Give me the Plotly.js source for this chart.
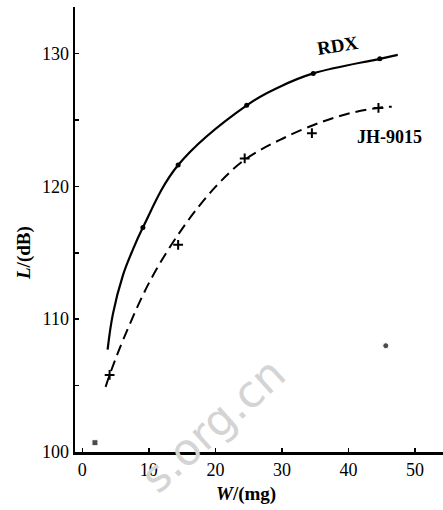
<!DOCTYPE html>
<html><head><meta charset="utf-8">
<script src="https://cdn.plot.ly/plotly-3.0.1.min.js"></script>
<style>html,body{margin:0;padding:0;background:#fff;}#c{width:443px;height:510px;}</style>
</head><body><div id="c"></div>
<script>
// RDX fitted curve
const rdxCurveW = [3.8, 4.6, 6.1, 7.4, 9.1, 14.4, 24.7, 29.7, 34.7, 44.7, 47.4];
const rdxCurveL = [107.7, 110.4, 113.3, 115.0, 116.9, 121.6, 126.1, 127.5, 128.5, 129.6, 129.9];
// RDX measured points
const rdxW = [9.1, 14.4, 24.7, 34.7, 44.7];
const rdxL = [116.9, 121.6, 126.1, 128.5, 129.6];
// JH-9015 fitted curve
const jhCurveW = [3.5, 4.1, 6.1, 10.2, 15.0, 19.9, 24.4, 29.7, 35.7, 40.2, 44.4, 46.5];
const jhCurveL = [104.9, 105.8, 108.4, 112.9, 116.8, 119.9, 122.0, 123.5, 124.8, 125.5, 125.9, 126.0];
// JH-9015 measured points
const jhW = [4.1, 14.4, 24.4, 34.5, 44.5];
const jhL = [105.8, 115.6, 122.1, 124.0, 125.9];
// stray marks in the scan
const strayW = [1.9, 45.6];
const strayL = [100.7, 108.0];
const xTicks = [0, 10, 20, 30, 40, 50];
const yTicks = [100, 110, 120, 130];

const serif = 'Liberation Serif, Times New Roman, serif';
const traces = [
  {x: rdxCurveW, y: rdxCurveL, mode: 'lines', line: {color: '#000', width: 2.2, shape: 'spline', smoothing: 1.1}, hoverinfo: 'skip'},
  {x: rdxW, y: rdxL, mode: 'markers', marker: {color: '#000', size: 5, symbol: 'circle'}},
  {x: jhCurveW, y: jhCurveL, mode: 'lines', line: {color: '#000', width: 2, dash: '11px,6px', shape: 'spline', smoothing: 1}, hoverinfo: 'skip'},
  {x: jhW, y: jhL, mode: 'markers', marker: {color: '#000', size: 7, symbol: 'cross-thin-open', line: {color: '#000', width: 2}}},
  {x: strayW, y: strayL, mode: 'markers', marker: {color: '#000', size: [6, 6], symbol: ['square', 'circle']}, cliponaxis: false}
];
const layout = {
  width: 443, height: 510,
  margin: {l: 75, r: 0, t: 7, b: 58},
  paper_bgcolor: '#fff', plot_bgcolor: '#fff',
  showlegend: false,
  font: {family: serif, color: '#000', size: 18},
  xaxis: {
    range: [-1.1, 54.2], tickvals: xTicks, ticktext: xTicks.map(String),
    showgrid: false, zeroline: false, showline: true, linecolor: '#000', linewidth: 2.5,
    ticks: 'inside', ticklen: 4, tickwidth: 1.5, tickcolor: '#000',
    tickfont: {family: serif, size: 18, color: '#000'}
  },
  yaxis: {
    range: [100, 133.5], tickvals: yTicks, ticktext: yTicks.map(String),
    showgrid: false, zeroline: false, showline: true, linecolor: '#000', linewidth: 2.5,
    ticks: 'inside', ticklen: 4, tickwidth: 1.5, tickcolor: '#000',
    minor: {tickvals: [105, 115, 125], ticks: 'inside', ticklen: 4, tickwidth: 1.5, tickcolor: '#000'},
    tickfont: {family: serif, size: 18, color: '#000'}
  },
  annotations: [
    {x: 38.3, y: 130.6, xref: 'x', yref: 'y', text: '<b>RDX</b>', showarrow: false, textangle: -9,
     font: {family: serif, size: 19, color: '#000'}},
    {x: 46.2, y: 123.7, xref: 'x', yref: 'y', text: '<b>JH-9015</b>', showarrow: false,
     font: {family: serif, size: 18, color: '#000'}},
    {x: 246, y: 494, text: '<b><i>W</i>/(mg)</b>', showarrow: false,
     font: {family: serif, size: 19, color: '#000'}},
    {x: 24, y: 253, text: '<b><i>L</i>/(dB)</b>', showarrow: false, textangle: -90,
     font: {family: serif, size: 19, color: '#000'}},
    {x: 212, y: 425, text: 's.org.cn', showarrow: false, textangle: -42,
     font: {family: 'DejaVu Sans, sans-serif', size: 44, color: '#d4d4d4'}}
  ]
};
// convert pixel-placed annotations to paper coordinates
const pw = 443 - 75, ph = 510 - 7 - 58;
layout.annotations.forEach(a => {
  if (a.xref === undefined) {
    a.xref = 'paper'; a.yref = 'paper';
    a.xanchor = 'center'; a.yanchor = 'middle';
    a.x = (a.x - 75) / pw;
    a.y = (510 - 58 - a.y) / ph;
  }
});
Plotly.newPlot('c', traces, layout, {staticPlot: true});
</script></body></html>
